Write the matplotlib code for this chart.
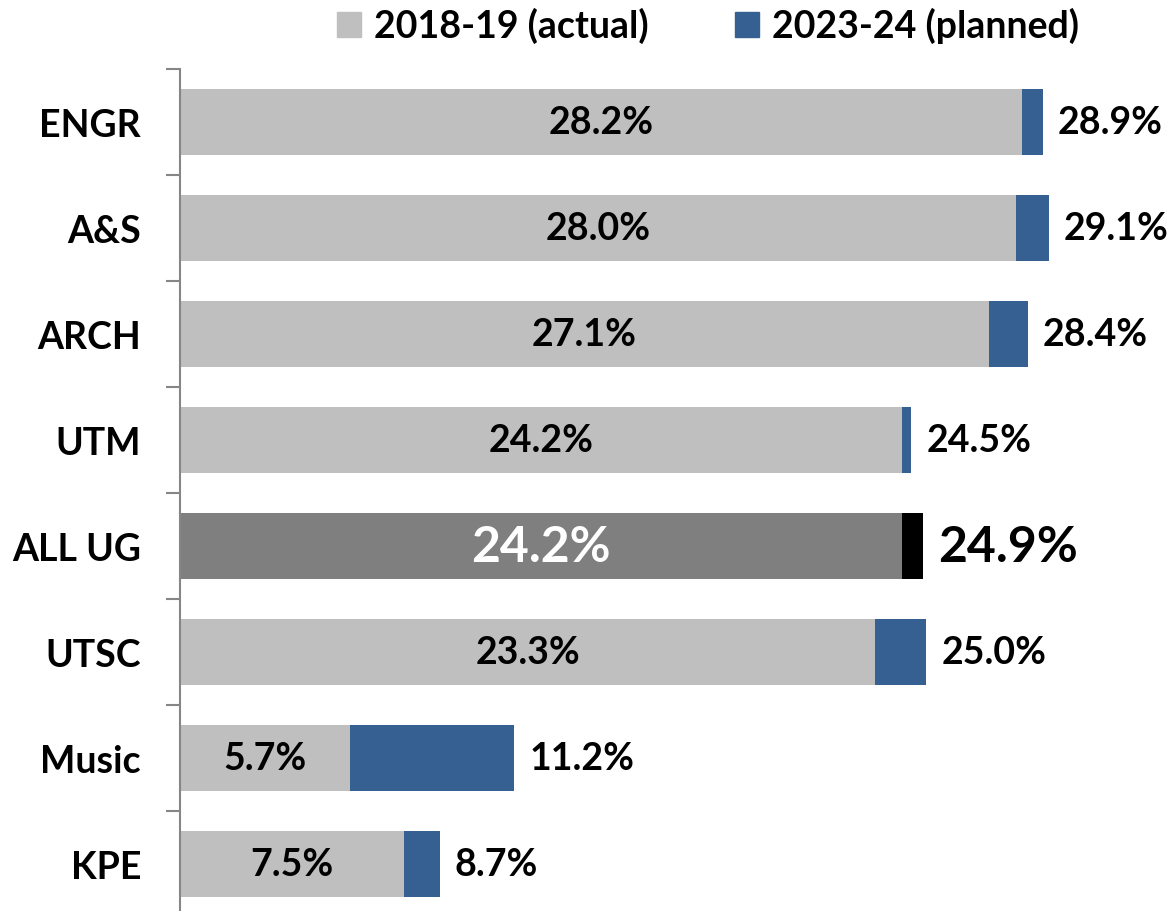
import numpy as np
import matplotlib
matplotlib.use("Agg")
import matplotlib.pyplot as plt

# data (percent)
schools = ["ENGR", "A&S", "ARCH", "UTM", "ALL UG", "UTSC", "Music", "KPE"]
actual_1819 = [28.2, 28.0, 27.1, 24.2, 24.2, 23.3, 5.7, 7.5]
planned_2324 = [28.9, 29.1, 28.4, 24.5, 24.9, 25.0, 11.2, 8.7]

plt.rcParams['font.family'] = ['Lato', 'DejaVu Sans']
plt.rcParams['font.weight'] = 'bold'

fig = plt.figure(figsize=(11.75, 9.12), dpi=100)
ax = fig.add_axes([180/1175, -6/912, 1 - 180/1175 - 10/1175, 848/912])

n = len(schools)
y = np.arange(n)
h = 0.62
grey_c = ["#7F7F7F" if s == "ALL UG" else "#BFBFBF" for s in schools]
blue_c = ["#000000" if s == "ALL UG" else "#376092" for s in schools]
diff = np.array(planned_2324) - np.array(actual_1819)

ax.barh(y, actual_1819, height=h, color=grey_c, label="2018-19 (actual)")
ax.barh(y, diff, left=actual_1819, height=h, color=blue_c, label="2023-24 (planned)")

for i, s in enumerate(schools):
    big = s == "ALL UG"
    ax.text(actual_1819[i] / 2, y[i], f"{actual_1819[i]:.1f}%", ha="center", va="center",
            fontsize=36 if big else 27, color="white" if big else "black", fontweight="bold")
    ax.text(planned_2324[i] + 0.5, y[i], f"{planned_2324[i]:.1f}%", ha="left", va="center",
            fontsize=36 if big else 27, color="black", fontweight="bold")

ax.set_ylim(n - 0.5, -0.5)
ax.set_xlim(0, 33)
ax.set_yticks(y)
ax.set_yticklabels(schools, fontsize=27, fontweight="bold")
ax.set_yticks(np.arange(n + 1) - 0.5, minor=True)
ax.tick_params(axis="y", which="major", length=0, pad=28)
ax.tick_params(axis="y", which="minor", length=10, width=1.5, color="#868686")
ax.set_xticks([])
for sp in ["top", "right", "bottom"]:
    ax.spines[sp].set_visible(False)
ax.spines["left"].set_color("#868686")
ax.spines["left"].set_linewidth(1.5)

handles = [plt.Rectangle((0, 0), 1, 1, color="#BFBFBF"),
           plt.Rectangle((0, 0), 1, 1, color="#376092")]
fig.legend(handles, ["2018-19 (actual)", "2023-24 (planned)"], loc="upper center",
           bbox_to_anchor=(708/1175, 1.028), ncol=2, frameon=False, fontsize=27,
           handlelength=0.65, handleheight=0.65, handletextpad=0.35, columnspacing=2.3)

fig.savefig("out.png", dpi=100)
